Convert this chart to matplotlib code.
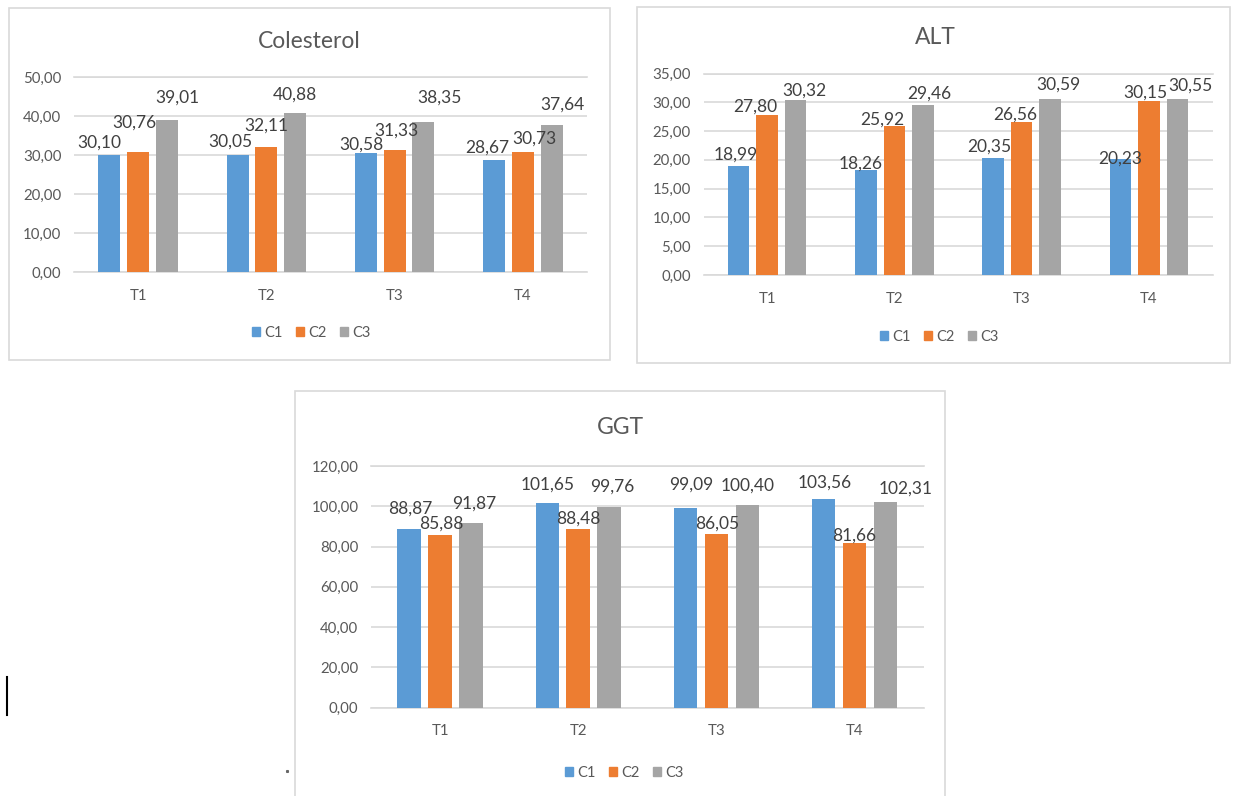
import numpy as np
import matplotlib.pyplot as plt
from matplotlib.patches import Patch, Rectangle
from matplotlib.lines import Line2D

plt.rcParams['font.family'] = ['Lato', 'DejaVu Sans']

W, H = 1237, 796

CATEGORIES = ['T1', 'T2', 'T3', 'T4']
SERIES = ['C1', 'C2', 'C3']
COLORS = ['#5B9BD5', '#ED7D31', '#A5A5A5']

COLESTEROL_C1 = [30.10, 30.05, 30.58, 28.67]
COLESTEROL_C2 = [30.76, 32.11, 31.33, 30.73]
COLESTEROL_C3 = [39.01, 40.88, 38.35, 37.64]

ALT_C1 = [18.99, 18.26, 20.35, 20.23]
ALT_C2 = [27.80, 25.92, 26.56, 30.15]
ALT_C3 = [30.32, 29.46, 30.59, 30.55]

GGT_C1 = [88.87, 101.65, 99.09, 103.56]
GGT_C2 = [85.88, 88.48, 86.05, 81.66]
GGT_C3 = [91.87, 99.76, 100.40, 102.31]

# hand-placed data label nudges (dx, dy in pixels from the bar top), one row per series
COLESTEROL_SHIFT = [[(-10, 12), (-7, 13), (-4, 8), (-7, 13)],
                    [(-4, 29), (0, 21), (2, 19), (12, 14)],
                    [(11, 22), (0, 18), (16, 25), (11, 21)]]
ALT_SHIFT = [[(-3, 11), (-5, 6), (-4, 11), (0, 0)],
             [(-12, 8), (-12, 6), (-6, 7), (-4, 9)],
             [(9, 10), (6, 12), (8, 14), (13, 13)]]
GGT_SHIFT = [[(1, 20), (0, 18), (6, 23), (1, 16)],
             [(1, 11), (0, 11), (1, 11), (0, 8)],
             [(3, 19), (3, 20), (0, 20), (20, 13)]]

GRID = '#D9D9D9'
TEXT = '#595959'
LABEL = '#404040'


def fx(px):
    return px / W


def fy(py):
    return 1 - py / H


def rect(left, top, right, bottom):
    return [left / W, 1 - bottom / H, (right - left) / W, (bottom - top) / H]


def comma(v):
    return f'{v:.2f}'.replace('.', ',')


def panel(fig, frame, plot, title, title_xy, legend_xy, series, ymax, ystep, shifts):
    l, t, r, b = frame
    fig.add_artist(Rectangle((fx(l), fy(b)), (r - l) / W, (b - t) / H,
                             transform=fig.transFigure, fill=False,
                             ec=GRID, lw=1.2))

    ax = fig.add_axes(rect(*plot))
    x = np.arange(len(CATEGORIES))
    for i, (vals, color) in enumerate(zip(series, COLORS)):
        pos = x + (i - 1) * 0.224
        ax.bar(pos, vals, width=0.17, color=color, zorder=3)
        for xp, v, (dx, dy) in zip(pos, vals, shifts[i]):
            ax.annotate(comma(v), (xp, v), xytext=(dx, dy),
                        textcoords='offset pixels', ha='center', va='center',
                        fontsize=12.5, color=LABEL, zorder=4)

    ax.set_xlim(-0.5, len(CATEGORIES) - 0.5)
    ax.set_ylim(0, ymax)
    yt = np.arange(0, ymax + ystep / 2, ystep)
    ax.set_yticks(yt, [comma(v) for v in yt])
    ax.set_xticks(x, CATEGORIES)
    ax.tick_params(axis='y', length=0, pad=9, labelsize=10.8, labelcolor=TEXT)
    ax.tick_params(axis='x', length=0, pad=12, labelsize=10.8, labelcolor=TEXT)
    ax.yaxis.grid(True, color=GRID, lw=1.2)
    ax.set_axisbelow(True)
    for side in ['left', 'right']:
        ax.spines[side].set_visible(False)
    for side in ['top', 'bottom']:
        ax.spines[side].set_color(GRID)
        ax.spines[side].set_linewidth(1.2)
    ax.patch.set_alpha(0)

    fig.text(fx(title_xy[0]), fy(title_xy[1]), title, ha='center', va='center',
             fontsize=16.5, color=TEXT)

    handles = [Patch(color=c) for c in COLORS]
    fig.legend(handles, SERIES, loc='center',
               bbox_to_anchor=(fx(legend_xy[0]), fy(legend_xy[1])),
               ncol=3, frameon=False, handlelength=0.55, handleheight=0.55,
               handletextpad=0.3, columnspacing=0.9, fontsize=10.5,
               labelcolor=TEXT, borderpad=0)
    return ax


fig = plt.figure(figsize=(W / 100, H / 100), dpi=100)
fig.patch.set_facecolor('white')

panel(fig, (9, 8, 610, 360), (74, 77, 587, 272), 'Colesterol', (309, 41), (311, 333),
      [COLESTEROL_C1, COLESTEROL_C2, COLESTEROL_C3], 50, 10, COLESTEROL_SHIFT)
panel(fig, (637, 7, 1230, 363), (703.5, 73.5, 1212.5, 275), 'ALT', (935, 37), (939, 337),
      [ALT_C1, ALT_C2, ALT_C3], 35, 5, ALT_SHIFT)
panel(fig, (295, 391, 945, 805), (371, 466, 923.5, 707.5), 'GGT', (620, 427), (624, 773),
      [GGT_C1, GGT_C2, GGT_C3], 120, 20, GGT_SHIFT)

# text cursor and stray dot on the page
fig.add_artist(Line2D([fx(7.5), fx(7.5)], [fy(677), fy(715)],
                      transform=fig.transFigure, color='black', lw=1.5))
fig.add_artist(Line2D([fx(287)], [fy(771)], transform=fig.transFigure,
                      marker='s', ms=1.2, color='#666666', lw=0))

fig.savefig('out.png', dpi=100)
